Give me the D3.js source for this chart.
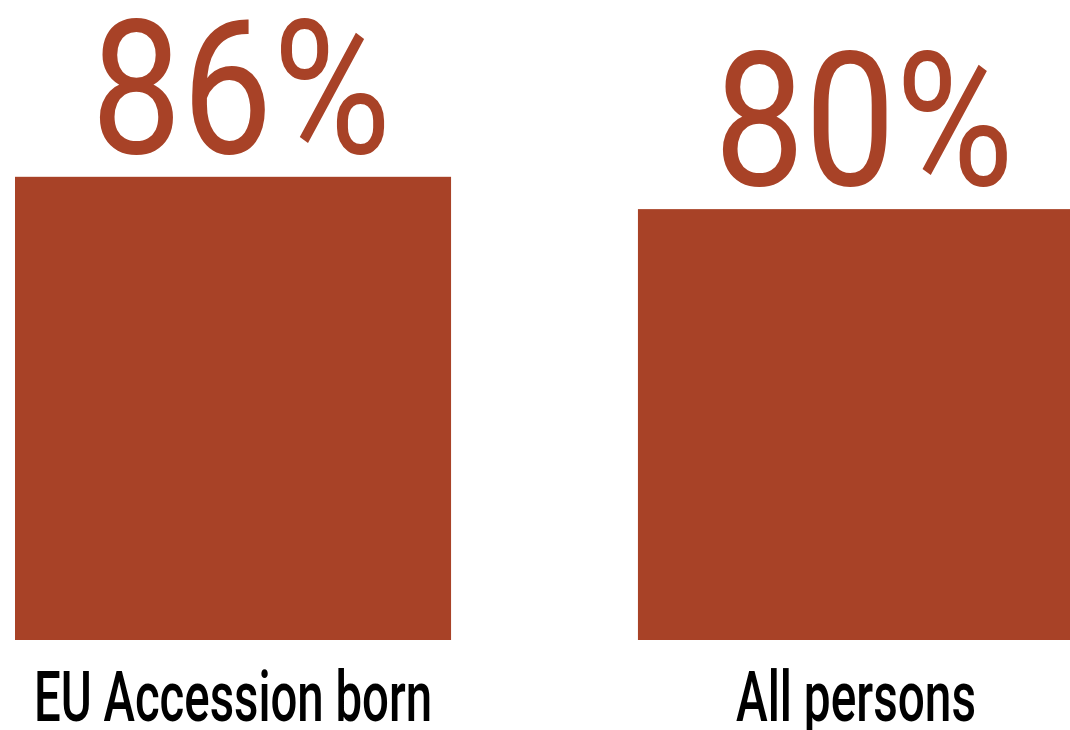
<!DOCTYPE html>
<html>
<head>
<meta charset="utf-8">
<script src="https://cdn.jsdelivr.net/npm/d3@7"></script>
<style>
  html, body { margin: 0; padding: 0; background: #fff; }
  svg { display: block; }
</style>
</head>
<body>
<svg id="chart" width="1070" height="730"></svg>
<script>
const categories = ["EU Accession born", "All persons"];
const values = [86, 80];
const valueLabels = ["86%", "80%"];

const W = 1070, H = 730;
const barColor = "#a84227";
const svg = d3.select("#chart");

const x = d3.scaleBand().domain(categories).range([15, 1074]).paddingInner(0.3).paddingOuter(0);
const y = d3.scaleLinear().domain([0, 100]).range([640, 101.4]);

svg.selectAll("rect.bar")
  .data(categories)
  .join("rect")
  .attr("class", "bar")
  .attr("x", d => x(d))
  .attr("width", x.bandwidth())
  .attr("y", (d, i) => y(values[i]))
  .attr("height", (d, i) => y(0) - y(values[i]))
  .attr("fill", barColor);

svg.selectAll("text.val")
  .data(categories)
  .join("text")
  .attr("class", "val")
  .attr("x", d => x(d) + x.bandwidth() / 2 + 8)
  .attr("y", (d, i) => y(values[i]) - 24)
  .attr("text-anchor", "middle")
  .attr("font-family", "Roboto, 'DejaVu Sans Condensed', sans-serif")
  .attr("font-weight", 400)
  .attr("font-size", 188)
  .attr("textLength", 300)
  .attr("lengthAdjust", "spacingAndGlyphs")
  .attr("fill", barColor)
  .text((d, i) => valueLabels[i]);

const catWidths = [398, 240];
svg.selectAll("text.cat")
  .data(categories)
  .join("text")
  .attr("class", "cat")
  .attr("x", d => x(d) + x.bandwidth() / 2)
  .attr("y", 721)
  .attr("text-anchor", "middle")
  .attr("font-family", "Roboto, 'DejaVu Sans Condensed', sans-serif")
  .attr("font-weight", 500)
  .attr("font-size", 70)
  .attr("textLength", (d, i) => catWidths[i])
  .attr("lengthAdjust", "spacingAndGlyphs")
  .attr("fill", "#000")
  .text(d => d);
</script>
</body>
</html>
